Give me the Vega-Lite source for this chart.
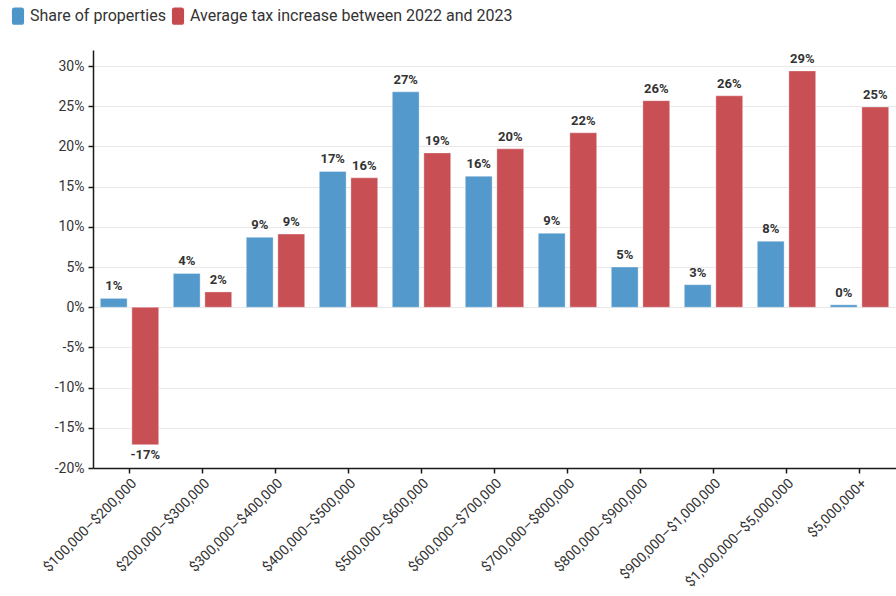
{
  "$schema": "https://vega.github.io/schema/vega-lite/v6.json",
  "width": 803,
  "height": 418,
  "autosize": {"type": "none"},
  "padding": {"left": 93, "top": 50, "right": 0, "bottom": 128},
  "background": "white",
  "config": {
    "font": "Roboto",
    "view": {"stroke": null},
    "axis": {
      "labelColor": "#333333",
      "domainColor": "#1a1a1a",
      "tickColor": "#1a1a1a",
      "domainWidth": 1.5,
      "tickWidth": 1.5,
      "tickSize": 5,
      "gridColor": "#e8e8e8",
      "gridWidth": 1,
      "title": null
    }
  },
  "data": {
    "values": [
      {"group": "$100,000–$200,000", "series": "Share of properties", "value": 1.1},
      {"group": "$100,000–$200,000", "series": "Average tax increase between 2022 and 2023", "value": -17.1},
      {"group": "$200,000–$300,000", "series": "Share of properties", "value": 4.2},
      {"group": "$200,000–$300,000", "series": "Average tax increase between 2022 and 2023", "value": 1.9},
      {"group": "$300,000–$400,000", "series": "Share of properties", "value": 8.7},
      {"group": "$300,000–$400,000", "series": "Average tax increase between 2022 and 2023", "value": 9.1},
      {"group": "$400,000–$500,000", "series": "Share of properties", "value": 16.9},
      {"group": "$400,000–$500,000", "series": "Average tax increase between 2022 and 2023", "value": 16.1},
      {"group": "$500,000–$600,000", "series": "Share of properties", "value": 26.8},
      {"group": "$500,000–$600,000", "series": "Average tax increase between 2022 and 2023", "value": 19.2},
      {"group": "$600,000–$700,000", "series": "Share of properties", "value": 16.3},
      {"group": "$600,000–$700,000", "series": "Average tax increase between 2022 and 2023", "value": 19.7},
      {"group": "$700,000–$800,000", "series": "Share of properties", "value": 9.2},
      {"group": "$700,000–$800,000", "series": "Average tax increase between 2022 and 2023", "value": 21.7},
      {"group": "$800,000–$900,000", "series": "Share of properties", "value": 5.0},
      {"group": "$800,000–$900,000", "series": "Average tax increase between 2022 and 2023", "value": 25.7},
      {"group": "$900,000–$1,000,000", "series": "Share of properties", "value": 2.8},
      {"group": "$900,000–$1,000,000", "series": "Average tax increase between 2022 and 2023", "value": 26.3},
      {"group": "$1,000,000–$5,000,000", "series": "Share of properties", "value": 8.2},
      {"group": "$1,000,000–$5,000,000", "series": "Average tax increase between 2022 and 2023", "value": 29.4},
      {"group": "$5,000,000+", "series": "Share of properties", "value": 0.3},
      {"group": "$5,000,000+", "series": "Average tax increase between 2022 and 2023", "value": 24.9}
    ]
  },
  "encoding": {
    "x": {
      "field": "group",
      "type": "nominal",
      "sort": null,
      "scale": {"paddingInner": 0.2, "paddingOuter": 0.1},
      "axis": {
        "labelAngle": -45,
        "labelAlign": "right",
        "labelBaseline": "top",
        "labelFontSize": 14,
        "labelPadding": 3,
        "grid": false
      }
    },
    "xOffset": {
      "field": "series",
      "sort": null,
      "scale": {"paddingInner": 0.15, "paddingOuter": 0}
    },
    "y": {
      "field": "value",
      "type": "quantitative",
      "scale": {"domain": [-20, 32], "nice": false},
      "axis": {
        "values": [-20, -15, -10, -5, 0, 5, 10, 15, 20, 25, 30],
        "labelExpr": "datum.value + '%'",
        "labelFontSize": 14,
        "labelPadding": 4,
        "grid": true
      }
    }
  },
  "layer": [
    {
      "mark": {"type": "bar", "stroke": "white", "strokeWidth": 1, "strokeOpacity": 0.35, "fillOpacity": 0.97},
      "encoding": {
        "color": {
          "field": "series",
          "type": "nominal",
          "sort": null,
          "scale": {
            "domain": ["Share of properties", "Average tax increase between 2022 and 2023"],
            "range": ["#4e96ca", "#c6494e"]
          },
          "legend": {
            "title": null,
            "orient": "none",
            "direction": "horizontal",
            "legendX": -84,
            "legendY": -43,
            "padding": 0,
            "symbolType": "M-0.4,-1 H0.4 Q0.7,-1 0.7,-0.7 V0.7 Q0.7,1 0.4,1 H-0.4 Q-0.7,1 -0.7,0.7 V-0.7 Q-0.7,-1 -0.4,-1 Z",
            "symbolSize": 300,
            "symbolStrokeWidth": 0,
            "symbolOpacity": 1,
            "labelFontSize": 16,
            "labelColor": "#333333",
            "labelOffset": 3,
            "columnPadding": 3,
            "labelLimit": 400
          }
        }
      }
    },
    {
      "transform": [
        {"filter": "datum.value >= 0"},
        {"calculate": "round(datum.value) + '%'", "as": "label"}
      ],
      "mark": {"type": "text", "baseline": "bottom", "dy": -5, "fontWeight": "bold", "fontSize": 13, "color": "#333333"},
      "encoding": {"text": {"field": "label"}}
    },
    {
      "transform": [
        {"filter": "datum.value < 0"},
        {"calculate": "round(datum.value) + '%'", "as": "label"}
      ],
      "mark": {"type": "text", "baseline": "top", "dy": 4, "fontWeight": "bold", "fontSize": 13, "color": "#333333"},
      "encoding": {"text": {"field": "label"}}
    }
  ]
}
